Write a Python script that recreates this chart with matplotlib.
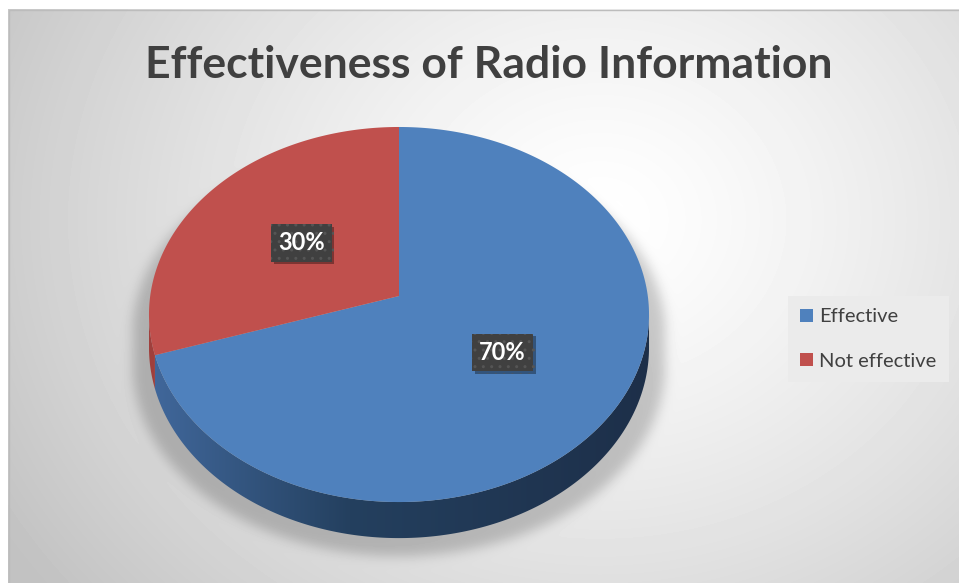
import numpy as np
import matplotlib.pyplot as plt
import matplotlib.patheffects as pe
from matplotlib.path import Path
from matplotlib.patches import Polygon, Rectangle
from matplotlib.colors import LinearSegmentedColormap

title = "Effectiveness of Radio Information"
labels = ["Effective", "Not effective"]
shares = [70, 30]
top_colors = ["#4f81bd", "#c0504d"]
side_colors = [["#41689c", "#24405f", "#1d2f49"],
               ["#a0403d", "#7a2f2d", "#6a2826"]]

W, H = 959, 583

# tilted disc in pixel units (y grows downwards)
CX, CY = 399, 296
A, B, K = 248.8, 185.7, 0.0987
DEPTH = 32.5


def project(u, v, drop=0.0):
    u = np.asarray(u, float)
    v = np.asarray(v, float)
    w = 1 + K * v
    return CX + A * u / w, CY - B * v / w + drop / w


def arc(t1, t2, r=1.0, drop=0.0, n=240):
    t = np.radians(np.linspace(t1, t2, n))
    x, y = project(r * np.cos(t), r * np.sin(t), drop)
    return np.column_stack([x, y])


def blur(img, sigma):
    k = np.arange(-3 * sigma, 3 * sigma + 1)
    k = np.exp(-0.5 * (k / sigma) ** 2)
    k /= k.sum()
    img = np.apply_along_axis(lambda r: np.convolve(r, k, mode="same"), 1, img)
    return np.apply_along_axis(lambda c: np.convolve(c, k, mode="same"), 0, img)


fig = plt.figure(figsize=(W / 100, H / 100), dpi=100)
ax = fig.add_axes([0, 0, 1, 1])

# left / right edges of the visible rim
t_left = 180 + np.degrees(np.arcsin(K))
t_right = 360 - np.degrees(np.arcsin(K))

# background: soft radial gradient + drop shadow under the disc
yy, xx = np.mgrid[0:H, 0:W] + 0.5
r = np.hypot((xx - 600) / 700, (yy - 220) / 600)
bg = 1 - 0.24 * np.clip(r, 0, 1) ** 1.3

outline = np.vstack([arc(t_right - 360, t_left), arc(t_left, t_right, drop=DEPTH)])
shadow = outline.copy()
shadow[:, 0] = CX + (shadow[:, 0] - CX) * 1.065
shadow[:, 1] += 18
inside = Path(shadow).contains_points(np.column_stack([xx.ravel(), yy.ravel()]))
mask = blur(inside.reshape(H, W).astype(float), 6)
bg *= 1 - 0.2 * mask
bg[:9, :] = 1
bg[:, :8] = 1

ax.imshow(bg, extent=(0, W, H, 0), cmap="gray", vmin=0, vmax=1,
          aspect="auto", interpolation="bilinear", zorder=0)
ax.add_patch(Rectangle((8.5, 9.5), W, H, facecolor="none",
                       edgecolor="#bcbcbc", lw=1, zorder=1))

wedges, _, pcts = ax.pie(shares, colors=top_colors, startangle=90,
                         counterclock=False, autopct="%1.0f%%",
                         pctdistance=0.5, radius=1, center=(0, 0))

x_lo, x_hi = CX - A / np.sqrt(1 - K * K), CX + A / np.sqrt(1 - K * K)
grad = np.linspace(0, 1, 256).reshape(1, -1)
tops = []
for w, lab, sc in zip(wedges, labels, side_colors):
    t1, t2 = w.theta1, w.theta2
    off = -360 * np.floor(t1 / 360)
    t1, t2 = t1 + off, t2 + off

    # rim of this slice
    cmap = LinearSegmentedColormap.from_list("rim", [(0, sc[0]), (0.4, sc[1]), (1, sc[2])])
    for s in (-360, 0, 360):
        lo, hi = max(t1 + s, t_left), min(t2 + s, t_right)
        if lo >= hi:
            continue
        side = Polygon(np.vstack([arc(lo, hi), arc(hi, lo, drop=DEPTH)]),
                       facecolor="none", edgecolor="none")
        ax.add_patch(side)
        im = ax.imshow(grad, extent=(x_lo, x_hi, CY + 260, CY), cmap=cmap,
                       aspect="auto", zorder=2)
        im.set_clip_path(side)

    # top face
    cx, cy = project(0, 0)
    top = Polygon(np.vstack([[cx, cy], arc(t1, t2)]), closed=True,
                  facecolor=w.get_facecolor(), edgecolor="none", zorder=3, label=lab)
    ax.add_patch(top)
    tops.append(top)
    w.remove()

for t in pcts:
    x, y = t.get_position()
    t.set_position(project(x, y))
    t.set(color="white", fontsize=17, fontweight="bold", family="Lato",
          ha="center", va="center", zorder=5)
    t.set_bbox(dict(boxstyle="square,pad=0.3", facecolor="#404040",
                    edgecolor="#555555", linewidth=0, hatch=".."))
    t.get_bbox_patch().set_path_effects(
        [pe.withSimplePatchShadow(offset=(2, -2), shadow_rgbFace="black", alpha=0.35)])

fig.text(489 / W, 1 - 78 / H, title, ha="center", va="baseline",
         fontsize=32, fontweight="bold", color="#404040", family="Lato")

ax.legend(handles=tops, labels=labels, loc="center left",
          bbox_to_anchor=(778 / W, 1 - 339 / H), frameon=True,
          facecolor="#ebebeb", edgecolor="none", framealpha=1, fancybox=False,
          borderpad=0.6, handlelength=0.65, handleheight=0.65,
          handletextpad=0.3, labelspacing=1.35, labelcolor="#404040",
          prop={"family": "Lato", "size": 14.5})

ax.set_xlim(0, W)
ax.set_ylim(H, 0)
ax.set_aspect("auto")
ax.axis("off")

fig.savefig("out.png", dpi=100)
